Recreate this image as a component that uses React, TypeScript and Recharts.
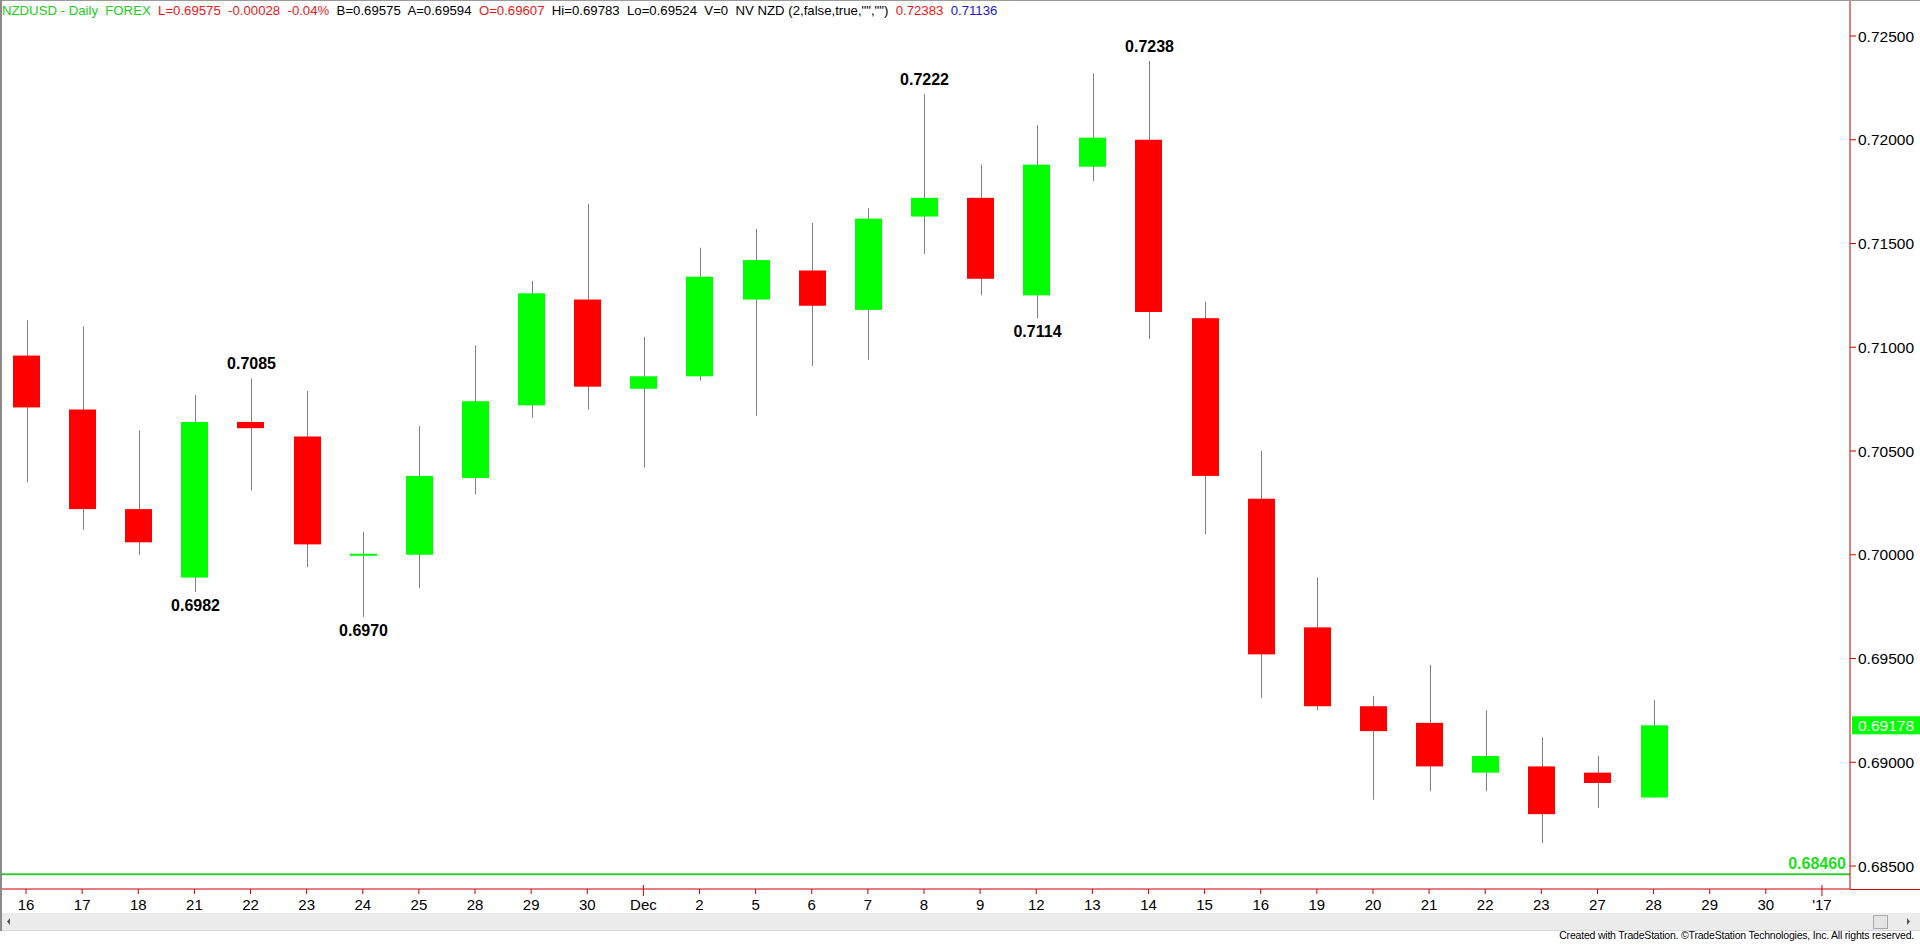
import { ComposedChart, Bar, XAxis, YAxis, ReferenceLine } from 'recharts'

const dayLabels = ['16', '17', '18', '21', '22', '23', '24', '25', '28', '29', '30', 'Dec', '2', '5', '6', '7', '8', '9', '12', '13', '14', '15', '16', '19', '20', '21', '22', '23', '27', '28', '29', '30', "'17"]

const opens = [0.7096, 0.7070, 0.7022, 0.6989, 0.7064, 0.7057, 0.69995, 0.7000, 0.7037, 0.7072, 0.7123, 0.7080, 0.7086, 0.7123, 0.7137, 0.7118, 0.7163, 0.7172, 0.7125, 0.7187, 0.7200, 0.7114, 0.7027, 0.6965, 0.6927, 0.6919, 0.6895, 0.6898, 0.6895, 0.6883]
const highs = [0.7113, 0.7110, 0.7060, 0.7077, 0.7085, 0.7079, 0.7011, 0.7062, 0.7101, 0.7132, 0.7169, 0.7105, 0.7148, 0.7157, 0.7160, 0.7167, 0.7222, 0.7188, 0.7207, 0.7232, 0.7238, 0.7122, 0.7050, 0.6989, 0.6932, 0.6947, 0.6925, 0.6912, 0.6903, 0.6930]
const lows = [0.7035, 0.7012, 0.7000, 0.6982, 0.7031, 0.6994, 0.6970, 0.6984, 0.7029, 0.7066, 0.7070, 0.7042, 0.7084, 0.7067, 0.7091, 0.7094, 0.7145, 0.7125, 0.7114, 0.7180, 0.7104, 0.7010, 0.6931, 0.6925, 0.6882, 0.6886, 0.6886, 0.6861, 0.6878, 0.6883]
const closes = [0.7071, 0.7022, 0.7006, 0.7064, 0.7061, 0.7005, 0.70005, 0.7038, 0.7074, 0.7126, 0.7081, 0.7086, 0.7134, 0.7142, 0.7120, 0.7162, 0.7172, 0.7133, 0.7188, 0.7201, 0.7117, 0.7038, 0.6952, 0.6927, 0.6915, 0.6898, 0.6903, 0.6875, 0.6890, 0.69178]

// swing high / low callouts: [bar index, text, side]
const callouts: [number, string, 'above' | 'below'][] = [
  [3, '0.6982', 'below'],
  [4, '0.7085', 'above'],
  [6, '0.6970', 'below'],
  [16, '0.7222', 'above'],
  [18, '0.7114', 'below'],
  [20, '0.7238', 'above'],
]

const priceTicks = [0.685, 0.69, 0.695, 0.7, 0.705, 0.71, 0.715, 0.72, 0.725]
const supportLevel = 0.6846
const lastClose = 0.69178

const rows = dayLabels.map((label, i) => {
  const c = callouts.find(a => a[0] === i)
  return {
    idx: i,
    label,
    open: opens[i],
    high: highs[i],
    low: lows[i],
    close: closes[i],
    range: i < opens.length ? [lows[i], highs[i]] : null,
    note: c ? c[1] : null,
    side: c ? c[2] : null,
  }
})

const FONT = 'Arial, "Liberation Sans", sans-serif'
const AXIS_RED = '#cc0000'

function Candle(props: any) {
  const { x, y, width, height, payload } = props
  if (payload.open == null || height == null) return null
  const top = Math.min(y, y + height)
  const h = Math.abs(height)
  const unit = h / (payload.high - payload.low)
  const yOf = (p: number) => top + (payload.high - p) * unit
  const cx = Math.round(x + width / 2) + 0.5
  const up = payload.close >= payload.open
  const bTop = yOf(Math.max(payload.open, payload.close))
  const bBot = yOf(Math.min(payload.open, payload.close))
  const bh = Math.max(2, bBot - bTop)
  return (
    <g>
      <line x1={cx} x2={cx} y1={top} y2={top + h} stroke="#808080" strokeWidth={1} />
      <rect x={Math.round(x)} y={bTop} width={width} height={bh} fill={up ? '#00ff00' : '#ff0000'} />
      {payload.note && (
        <text
          x={cx}
          y={payload.side === 'above' ? top - 9 : top + h + 19}
          textAnchor="middle"
          fontFamily={FONT}
          fontWeight="bold"
          fontSize={16}
          fill="#000"
        >
          {payload.note}
        </text>
      )}
    </g>
  )
}

function DayTick(props: any) {
  const { x, y, payload } = props
  const label = dayLabels[payload.value]
  const long = label === 'Dec' || label === "'17"
  return (
    <g>
      <line x1={x} x2={x} y1={long ? y - 4 : y} y2={y + (long ? 7 : 5)} stroke={AXIS_RED} />
      <text x={x} y={y + 21} textAnchor="middle" fontFamily={FONT} fontSize={15} fill="#000">
        {label}
      </text>
    </g>
  )
}

function SupportLabel(props: any) {
  const vb = props.viewBox
  if (!vb) return null
  return (
    <text x={vb.x + vb.width - 4} y={vb.y - 5} textAnchor="end" fontFamily={FONT} fontWeight="bold" fontSize={16} fill="#22dd22">
      {supportLevel.toFixed(5)}
    </text>
  )
}

function LastPriceBox(props: any) {
  const vb = props.viewBox
  if (!vb) return null
  const bx = vb.x + vb.width + 2
  return (
    <g>
      <rect x={bx} y={vb.y - 9} width={68} height={18} fill="#00ff00" />
      <text x={bx + 6} y={vb.y + 6} fontFamily={FONT} fontSize={15.5} fill="#ffffff">
        {lastClose.toFixed(5)}
      </text>
    </g>
  )
}

export default function App() {
  return (
    <div style={{ position: 'absolute', left: 0, top: 0, width: 1920, height: 945, background: '#fff', overflow: 'hidden' }}>
      <ComposedChart width={1920} height={945} data={rows} margin={{ top: 0, right: 0, bottom: 0, left: -2 }}>
        <XAxis
          dataKey="idx"
          type="category"
          interval={0}
          height={56}
          tickSize={0}
          tickMargin={0}
          axisLine={{ stroke: AXIS_RED }}
          tickLine={false}
          tick={<DayTick />}
        />
        <YAxis
          orientation="right"
          type="number"
          domain={[0.683892, 0.7267349]}
          allowDataOverflow
          ticks={priceTicks}
          interval={0}
          width={70}
          tickFormatter={(v: number) => v.toFixed(5)}
          axisLine={{ stroke: AXIS_RED }}
          tickLine={{ stroke: AXIS_RED }}
          tickSize={6}
          tickMargin={2}
          tick={{ fill: '#000', fontSize: 15.5, fontFamily: FONT }}
        />
        <ReferenceLine y={supportLevel} stroke="#33cc33" strokeWidth={2} label={(p: any) => <SupportLabel {...p} />} />
        <Bar dataKey="range" barSize={27} shape={<Candle />} isAnimationActive={false} />
        <ReferenceLine y={lastClose} stroke="none" strokeOpacity={0} label={(p: any) => <LastPriceBox {...p} />} />
      </ComposedChart>

      <svg width={1920} height={945} style={{ position: 'absolute', left: 0, top: 0, pointerEvents: 'none' }}>
        <line x1={0} x2={1920} y1={0.5} y2={0.5} stroke="#9a9a9a" />
        <line x1={1} x2={1} y1={0} y2={931} stroke="#8a8a8a" strokeWidth={2} />
        <line x1={1850} x2={1920} y1={889.5} y2={889.5} stroke={AXIS_RED} />
        <rect x={2} y={913} width={1918} height={18} fill="#ececec" />
        <line x1={2} x2={1920} y1={930.5} y2={930.5} stroke="#d8d8d8" />
        <path d="M10 918 L7 921.5 L10 925 Z" fill="#555" />
        <path d="M1907 918 L1910 921.5 L1907 925 Z" fill="#555" />
        <rect x={1873.5} y={915.5} width={14} height={13} fill="#e4e4e4" stroke="#a8a8a8" />
        <text x={2} y={15} fontFamily={FONT} fontSize={13.2} xmlSpace="preserve" style={{ whiteSpace: 'pre' }}>
          <tspan fill="#22cc22">{'NZDUSD - Daily  FOREX  '}</tspan>
          <tspan fill="#e81818">{'L=0.69575  -0.00028  -0.04%  '}</tspan>
          <tspan fill="#000">{'B=0.69575  A=0.69594  '}</tspan>
          <tspan fill="#e81818">{'O=0.69607  '}</tspan>
          <tspan fill="#000">{'Hi=0.69783  Lo=0.69524  V=0  NV NZD (2,false,true,"","")  '}</tspan>
          <tspan fill="#e81818">{'0.72383  '}</tspan>
          <tspan fill="#1818d8">{'0.71136'}</tspan>
        </text>
        <text x={1914} y={939} textAnchor="end" fontFamily={FONT} fontSize={10.5} fill="#000" style={{ letterSpacing: '-0.2px' }}>
          Created with TradeStation. ©TradeStation Technologies, Inc. All rights reserved.
        </text>
      </svg>
    </div>
  )
}
